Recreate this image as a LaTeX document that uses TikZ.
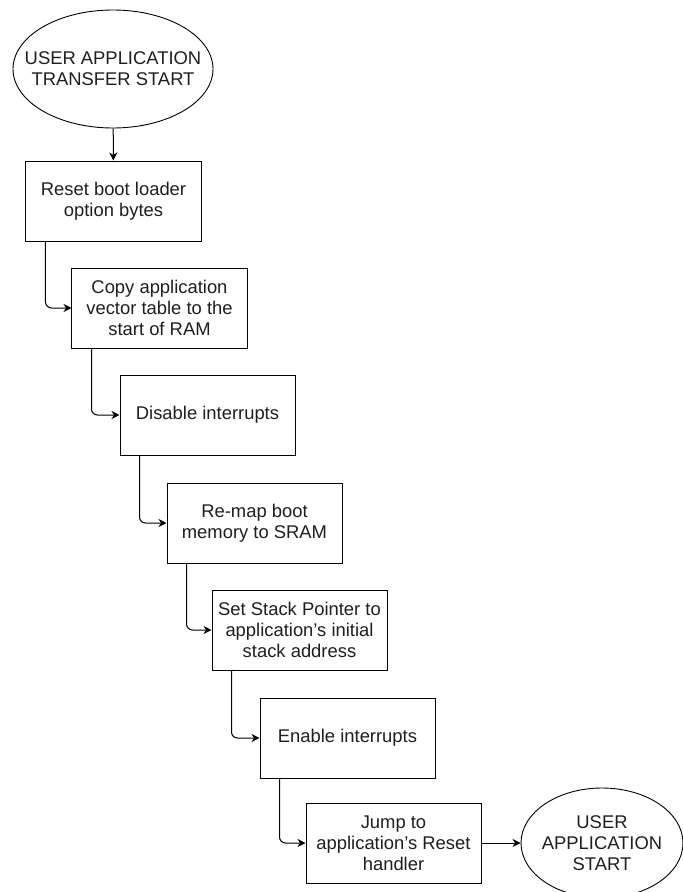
\documentclass[tikz,border=0pt]{standalone}
\usepackage{fontspec}
\setmainfont{Liberation Sans}
\usetikzlibrary{arrows.meta,shapes.geometric}
\definecolor{ink}{RGB}{30,30,30}
\begin{document}
\begin{tikzpicture}[x=1bp,y=-1bp,
  every node/.style={font=\fontsize{18.4bp}{21bp}\selectfont, text=ink},
  stepbox/.style={draw=black, line width=1bp, minimum width=175bp, minimum height=80bp,
    align=center, inner sep=0pt},
  terminal/.style={draw=black, line width=0.9bp, ellipse, align=center, inner ysep=0pt},
  flow/.style={draw=black, line width=1bp, rounded corners=6bp,
    -{Stealth[length=8bp,width=8bp,inset=2.5bp]}}]
\useasboundingbox (0,0) rectangle (683,892);
\clip (0,0) rectangle (683,892);

% start and end terminals
\node[terminal, inner xsep=-18.5bp, minimum width=200bp, minimum height=118bp] (start) at (113,69)
  {USER APPLICATION\\TRANSFER START};

% sequence of steps, each one shifted down and to the right
\node[stepbox] (b1) at (113.5,201) {Reset boot loader\\option bytes};
\node[stepbox] (b2) at (159.5,308) {Copy application\\vector table to the\\start of RAM};
\node[stepbox] (b3) at (207.5,415) {Disable interrupts};
\node[stepbox] (b4) at (254.5,523) {Re-map boot\\memory to SRAM};
\node[stepbox] (b5) at (299.5,630) {Set Stack Pointer to\\application's initial\\stack address};
\node[stepbox] (b6) at (347.5,738) {Enable interrupts};
\node[stepbox] (b7) at (393.5,843) {Jump to\\application's Reset\\handler};

\node[terminal, inner xsep=-4bp, minimum width=162bp, minimum height=110bp] (end) at (602,843)
  {USER\\APPLICATION\\START};

% connectors
\draw[flow] (start) -- (b1);
\draw[flow] ([xshift=20bp]b1.south west) |- (b2.west);
\draw[flow] ([xshift=20bp]b2.south west) |- (b3.west);
\draw[flow] ([xshift=20bp]b3.south west) |- (b4.west);
\draw[flow] ([xshift=20bp]b4.south west) |- (b5.west);
\draw[flow] ([xshift=20bp]b5.south west) |- (b6.west);
\draw[flow] ([xshift=20bp]b6.south west) |- (b7.west);
\draw[flow] (b7) -- (end);
\end{tikzpicture}
\end{document}
